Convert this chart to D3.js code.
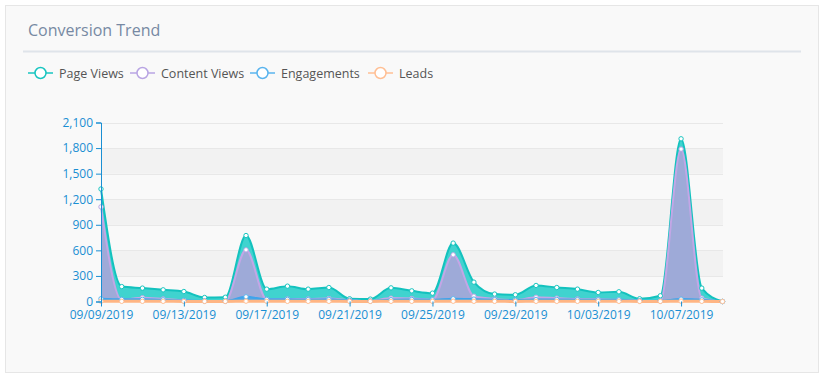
<!DOCTYPE html>
<html>
<head>
<meta charset="utf-8">
<script src="https://cdn.jsdelivr.net/npm/d3@7"></script>
<style>
  html, body { margin: 0; padding: 0; background: #ffffff; }
  svg { display: block; font-family: "Open Sans", sans-serif; }
</style>
</head>
<body>
<svg id="chart" width="824" height="377"></svg>
<script>
// данные
const dates = ["09/09/2019","09/10/2019","09/11/2019","09/12/2019","09/13/2019","09/14/2019","09/15/2019",
  "09/16/2019","09/17/2019","09/18/2019","09/19/2019","09/20/2019","09/21/2019","09/22/2019",
  "09/23/2019","09/24/2019","09/25/2019","09/26/2019","09/27/2019","09/28/2019","09/29/2019",
  "09/30/2019","10/01/2019","10/02/2019","10/03/2019","10/04/2019","10/05/2019","10/06/2019",
  "10/07/2019","10/08/2019","10/09/2019"];
const pageViews = [1320, 175, 157, 137, 117, 47, 50, 774, 145, 180, 145, 164, 32, 28, 160, 125, 98, 685, 227,
  87, 79, 188, 164, 145, 106, 114, 32, 67, 1909, 157, 0];
const contentViews = [1110, 20, 45, 30, 12, 5, 2, 606, 25, 30, 30, 35, 15, 5, 40, 35, 20, 548, 62, 30, 15, 50, 40,
  30, 25, 20, 10, 5, 1788, 40, 0];
const engagements = [32, 25, 25, 20, 12, 6, 5, 55, 25, 25, 24, 25, 12, 5, 22, 24, 20, 32, 28, 22, 15, 24, 24,
  22, 20, 20, 10, 8, 28, 20, 0];
const leads = [3, 2, 2, 2, 1, 1, 1, 4, 2, 2, 2, 2, 1, 1, 2, 2, 2, 3, 2, 2, 1, 2, 2, 2, 2, 2, 1, 1, 4, 2, 0];
const yTicks = [0, 300, 600, 900, 1200, 1500, 1800, 2100];
const xLabels = ["09/09/2019","09/13/2019","09/17/2019","09/21/2019","09/25/2019","09/29/2019","10/03/2019","10/07/2019"];

const series = [
  { name: "Page Views", values: pageViews, line: "#13c2be", fill: "#40d3cf", legend: "#19c5c0" },
  { name: "Content Views", values: contentViews, line: "#c3a6e6", fill: "#9eaad8", legend: "#b9a5e3" },
  { name: "Engagements", values: engagements, line: "#3ea4ec", fill: "#4ba7e8", legend: "#5ab4ee" },
  { name: "Leads", values: leads, line: "#ffb583", fill: "#ffc29a", legend: "#ffbf94" }
];

const svg = d3.select("#chart");

// карточка
svg.append("rect").attr("x", 5.5).attr("y", 5.5).attr("width", 813).attr("height", 367)
  .attr("fill", "#f9f9f9").attr("stroke", "#e6e6e6");
svg.append("text").attr("x", 28).attr("y", 36).text("Conversion Trend")
  .attr("font-size", 16).attr("fill", "#7789a3");
svg.append("line").attr("x1", 23).attr("x2", 801).attr("y1", 51.5).attr("y2", 51.5)
  .attr("stroke", "#dfe4ea").attr("stroke-width", 2);

// легенда
const legendX = [28, 130, 250, 368];
series.forEach((s, i) => {
  const g = svg.append("g").attr("transform", `translate(${legendX[i]},73)`);
  g.append("line").attr("x1", 0).attr("x2", 25).attr("stroke", s.legend).attr("stroke-width", 1.5);
  g.append("circle").attr("cx", 12.5).attr("r", 5.5).attr("fill", "#fff")
    .attr("stroke", s.legend).attr("stroke-width", 1.5);
  g.append("text").attr("x", 31).attr("y", 4.5).text(s.name).attr("font-size", 12.5).attr("fill", "#555");
});

const x = d3.scalePoint().domain(dates).range([101, 722.5]);
const y = d3.scaleLinear().domain([0, 2100]).range([301.5, 122.5]);

// полосы и сетка
[[1500, 1800], [900, 1200], [300, 600]].forEach(([a, b]) => {
  svg.append("rect").attr("x", 101).attr("width", 622).attr("y", y(b)).attr("height", y(a) - y(b))
    .attr("fill", "#f2f2f2");
});
svg.append("g").selectAll("line").data(yTicks.slice(1)).join("line")
  .attr("x1", 101).attr("x2", 723).attr("y1", d => Math.round(y(d)) + 0.5).attr("y2", d => Math.round(y(d)) + 0.5)
  .attr("stroke", "#e8e8e8");

const curve = d3.curveMonotoneX;
const area = d3.area().x((d, i) => x(dates[i])).y0(y(0)).y1(d => y(d)).curve(curve);
const line = d3.line().x((d, i) => x(dates[i])).y(d => y(d)).curve(curve);

series.forEach(s => {
  svg.append("path").datum(s.values).attr("d", area).attr("fill", s.fill);
});
series.forEach((s, k) => {
  svg.append("path").datum(s.values).attr("d", line).attr("fill", "none")
    .attr("stroke", s.line).attr("stroke-width", k === 3 ? 3 : 2);
});
series.forEach(s => {
  svg.append("g").selectAll("circle").data(s.values).join("circle")
    .attr("cx", (d, i) => x(dates[i])).attr("cy", d => y(d)).attr("r", 2.2)
    .attr("fill", "#fff").attr("stroke", s.legend).attr("stroke-width", 1);
});

// оси
const axisColor = "#1a8fd3";
const gy = svg.append("g").attr("transform", "translate(101,0)")
  .call(d3.axisLeft(y).tickValues(yTicks).tickFormat(d3.format(",")).tickSizeOuter(0).tickSize(5));
gy.select(".domain").attr("stroke", axisColor);
gy.selectAll(".tick line").attr("stroke", axisColor);
gy.selectAll("text").attr("fill", axisColor).attr("font-size", 12).attr("font-family", "Open Sans");

const gx = svg.append("g").attr("transform", `translate(0,${y(0)})`)
  .call(d3.axisBottom(x).tickValues(xLabels).tickSize(5).tickSizeOuter(0));
gx.select(".domain").remove();
gx.selectAll(".tick line").attr("stroke", axisColor);
gx.selectAll("text").attr("fill", axisColor).attr("font-size", 12).attr("font-family", "Open Sans")
  .attr("y", 9).attr("dy", "0.71em");
</script>
</body>
</html>
